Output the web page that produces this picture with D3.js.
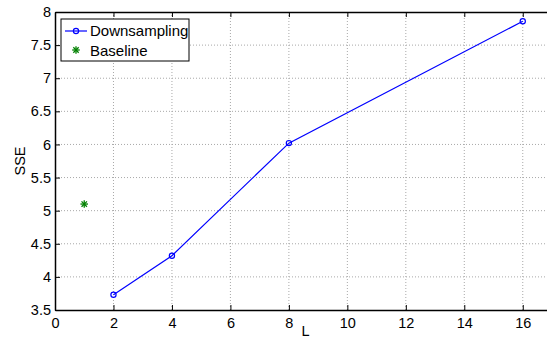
<!DOCTYPE html>
<html>
<head>
<meta charset="utf-8">
<script src="https://cdn.jsdelivr.net/npm/d3@7"></script>
<style>
  body { margin: 0; background: #fff; }
  svg { font-family: "Liberation Sans", Arial, sans-serif; }
  .grid line { stroke: #a8a8a8; stroke-dasharray: 1 2; stroke-width: 1; }
</style>
</head>
<body>
<div id="chart"></div>
<script>
const width = 547,
  height = 343;
const margin = { top: 12, right: -5, bottom: 33, left: 55 };

// data
const downL = [2, 4, 8, 16];
const downSSE = [3.73, 4.32, 6.02, 7.86];
const baseL = [1];
const baseSSE = [5.1];
const xTicks = [0, 2, 4, 6, 8, 10, 12, 14, 16];
const yTicks = [3.5, 4, 4.5, 5, 5.5, 6, 6.5, 7, 7.5, 8];

const svg = d3
  .select("#chart")
  .append("svg")
  .attr("width", width)
  .attr("height", height);

const x = d3
  .scaleLinear()
  .domain([0, 17])
  .range([margin.left, width - margin.right]);
const y = d3
  .scaleLinear()
  .domain([3.5, 8])
  .range([height - margin.bottom, margin.top]);

const x0 = margin.left,
  x1 = width - margin.right,
  y0 = height - margin.bottom,
  y1 = margin.top;

// grid
const grid = svg.append("g").attr("class", "grid");
grid
  .selectAll("line.v")
  .data(xTicks.filter((d) => d > 0))
  .join("line")
  .attr("x1", (d) => x(d))
  .attr("x2", (d) => x(d))
  .attr("y1", y0)
  .attr("y2", y1);
grid
  .selectAll("line.h")
  .data(yTicks.filter((d) => d > 3.5 && d < 8))
  .join("line")
  .attr("x1", x0)
  .attr("x2", x1)
  .attr("y1", (d) => y(d))
  .attr("y2", (d) => y(d));

// axes
const tickLen = 5;
const xAxis = svg
  .append("g")
  .attr("transform", `translate(0,${y0})`)
  .call(d3.axisBottom(x).tickValues(xTicks).tickSizeInner(-tickLen).tickSizeOuter(0).tickPadding(8));
const xAxisTop = svg
  .append("g")
  .attr("transform", `translate(0,${y1})`)
  .call(d3.axisTop(x).tickValues(xTicks).tickSizeInner(-tickLen).tickSizeOuter(0).tickFormat(""));
const yAxis = svg
  .append("g")
  .attr("transform", `translate(${x0},0)`)
  .call(d3.axisLeft(y).tickValues(yTicks).tickSizeInner(-tickLen).tickSizeOuter(0).tickPadding(4).tickFormat(d3.format("")));

[xAxis, xAxisTop, yAxis].forEach((a) => {
  a.select(".domain").attr("stroke", "#000").attr("stroke-width", 1.5);
  a.selectAll(".tick line").attr("stroke", "#000");
  a.selectAll("text").attr("font-size", 14.5).attr("fill", "#000").attr("font-family", "Liberation Sans, Arial, sans-serif");
});

// axis labels
svg
  .append("text")
  .attr("x", (x0 + x1) / 2 + 2)
  .attr("y", 336)
  .attr("text-anchor", "middle")
  .attr("font-size", 14.5)
  .text("L");
svg
  .append("text")
  .attr("transform", `translate(25,${(y0 + y1) / 2}) rotate(-90)`)
  .attr("text-anchor", "middle")
  .attr("font-size", 14.5)
  .text("SSE");

// downsampling series
const line = d3
  .line()
  .x((d, i) => x(downL[i]))
  .y((d) => y(d));
svg
  .append("path")
  .datum(downSSE)
  .attr("fill", "none")
  .attr("stroke", "#0000ff")
  .attr("stroke-width", 1.2)
  .attr("d", line);
svg
  .selectAll("circle.down")
  .data(downSSE)
  .join("circle")
  .attr("class", "down")
  .attr("cx", (d, i) => x(downL[i]))
  .attr("cy", (d) => y(d))
  .attr("r", 2.6)
  .attr("fill", "none")
  .attr("stroke", "#0000ff")
  .attr("stroke-width", 1.2);

// baseline star marker
function star(g, cx, cy, r) {
  const s = g.append("g").attr("transform", `translate(${cx},${cy})`).attr("stroke", "#008000").attr("stroke-width", 1.3);
  [0, 45, 90, 135].forEach((a) => {
    const rad = (a * Math.PI) / 180;
    s.append("line")
      .attr("x1", -r * Math.cos(rad))
      .attr("y1", -r * Math.sin(rad))
      .attr("x2", r * Math.cos(rad))
      .attr("y2", r * Math.sin(rad));
  });
}
baseSSE.forEach((v, i) => star(svg, x(baseL[i]), y(v), 3.8));

// legend
const lg = svg.append("g");
lg.append("rect")
  .attr("x", 61)
  .attr("y", 19)
  .attr("width", 128)
  .attr("height", 42)
  .attr("fill", "#fff")
  .attr("stroke", "#000")
  .attr("stroke-width", 1);
lg.append("line")
  .attr("x1", 65)
  .attr("x2", 87)
  .attr("y1", 31)
  .attr("y2", 31)
  .attr("stroke", "#0000ff")
  .attr("stroke-width", 1.2);
lg.append("circle")
  .attr("cx", 76)
  .attr("cy", 31)
  .attr("r", 2.6)
  .attr("fill", "none")
  .attr("stroke", "#0000ff")
  .attr("stroke-width", 1.2);
lg.append("text").attr("x", 90).attr("y", 36).attr("font-size", 15).text("Downsampling");
star(lg, 76, 50, 3.8);
lg.append("text").attr("x", 90).attr("y", 56).attr("font-size", 15).text("Baseline");
</script>
</body>
</html>
